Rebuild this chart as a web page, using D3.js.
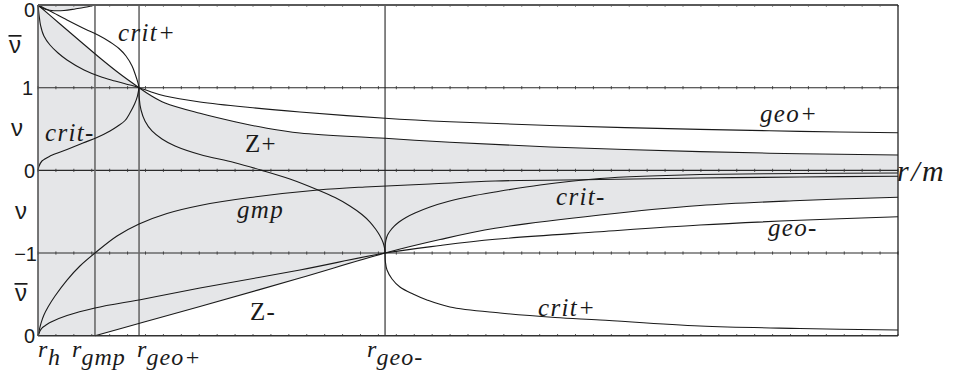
<!DOCTYPE html>
<html><head><meta charset="utf-8">
<script src="https://cdn.jsdelivr.net/npm/d3@7"></script>
<style>
html,body{margin:0;padding:0;background:#fff;}
svg{display:block;}
.sans{font-family:"Liberation Sans",Arial,Helvetica,sans-serif;fill:#1a1a1a;}
.serif{font-family:"Liberation Serif","Times New Roman",serif;fill:#1a1a1a;}
</style></head><body>
<svg id="chart" width="953" height="382"></svg>
<script>
// Marked radii (r/m): horizon, gmp radius, the two circular geodesics, and the plotted range end
const rH = 1.0, rGmp = 1.318, rGeoPlus = 1.564, rGeoMinus = 2.937, rMax = 5.8;

// Vertical coordinate u: nu-bar = 1/nu in [1,2], nu in [-1,1], nu-bar again in [-2,-1]
const bandTicks = [2, 1, 0, -1, -2];
const bandTickLabels = ["0", "1", "0", "\u22121", "0"];
const nuLabels = [
  { u: 1.5, bar: true, cx: 15 },
  { u: 0.5, bar: false, cx: 17 },
  { u: -0.5, bar: false, cx: 21 },
  { u: -1.5, bar: true, cx: 21 }
];

// Curves as [r/m, u] pairs
const capTop = [[1.000,2.000],[1.017,1.970],[1.045,1.946],[1.089,1.931],[1.145,1.933],[1.207,1.952],[1.262,1.972],[1.318,2.000]];

const critPlusTop = [[1.000,2.000],[1.067,1.927],[1.162,1.819],[1.262,1.710],[1.340,1.631],[1.402,1.553],[1.452,1.474],[1.491,1.383],[1.525,1.262],[1.544,1.153],[1.558,1.057],[1.564,1.000]];

const critPlusMid = [[1.564,1.000],[1.565,0.875],[1.575,0.730],[1.597,0.597],[1.636,0.476],[1.692,0.379],[1.765,0.294],[1.904,0.191],[2.094,0.095],[2.250,0.000],[2.406,-0.105],[2.563,-0.238],[2.658,-0.329],[2.741,-0.431],[2.808,-0.534],[2.853,-0.625],[2.886,-0.716],[2.909,-0.794],[2.926,-0.873],[2.934,-0.939],[2.937,-1.000]];

const critPlusLow = [[2.937,-1.000],[2.939,-1.109],[2.948,-1.205],[2.976,-1.314],[3.020,-1.411],[3.093,-1.496],[3.171,-1.568],[3.299,-1.653],[3.579,-1.726],[3.886,-1.780],[4.137,-1.810],[4.695,-1.883],[5.253,-1.913],[5.800,-1.931]];

const critMinusLeft = [[1.000,0.000],[1.006,0.053],[1.022,0.113],[1.067,0.173],[1.162,0.252],[1.251,0.331],[1.329,0.397],[1.402,0.476],[1.446,0.536],[1.486,0.603],[1.513,0.694],[1.539,0.802],[1.555,0.899],[1.564,1.000]];

const critMinusRight = [[2.937,-1.000],[2.938,-0.903],[2.942,-0.843],[2.951,-0.782],[2.965,-0.734],[2.987,-0.679],[3.015,-0.625],[3.054,-0.570],[3.104,-0.516],[3.188,-0.443],[3.288,-0.377],[3.411,-0.316],[3.551,-0.262],[3.802,-0.177],[4.137,-0.099],[4.416,-0.068],[4.695,-0.050],[5.253,-0.038],[5.800,-0.032]];

const gmp = [[1.000,-2.000],[1.006,-1.943],[1.017,-1.847],[1.033,-1.750],[1.056,-1.653],[1.095,-1.520],[1.162,-1.327],[1.234,-1.157],[1.318,-1.000],[1.441,-0.794],[1.564,-0.649],[1.720,-0.522],[1.904,-0.425],[2.183,-0.329],[2.563,-0.238],[2.825,-0.201],[3.188,-0.165],[3.551,-0.129],[4.137,-0.111],[4.695,-0.093],[5.253,-0.080],[5.800,-0.071]];

const geoPlus = [[1.000,2.000],[1.006,1.879],[1.014,1.758],[1.033,1.625],[1.067,1.516],[1.112,1.419],[1.162,1.335],[1.257,1.214],[1.346,1.135],[1.430,1.081],[1.486,1.047],[1.530,1.023],[1.564,1.000],[1.625,0.954],[1.709,0.899],[1.904,0.827],[2.183,0.760],[2.462,0.706],[2.937,0.630],[3.299,0.588],[3.858,0.542],[4.695,0.496],[5.253,0.472],[5.800,0.455]];

const zPlus = [[1.000,2.000],[1.123,1.770],[1.234,1.565],[1.346,1.359],[1.458,1.165],[1.564,1.000],[1.625,0.911],[1.709,0.815],[1.904,0.690],[2.099,0.588],[2.278,0.509],[2.462,0.452],[2.937,0.388],[3.299,0.339],[3.858,0.282],[4.695,0.226],[5.253,0.201],[5.800,0.185]];

const geoMinus = [[1.000,-2.000],[1.006,-1.973],[1.011,-1.943],[1.022,-1.907],[1.045,-1.871],[1.073,-1.834],[1.162,-1.756],[1.318,-1.665],[1.592,-1.556],[1.904,-1.423],[2.462,-1.205],[2.937,-1.000],[3.244,-0.909],[3.551,-0.834],[4.137,-0.742],[4.695,-0.661],[5.253,-0.604],[5.800,-0.561]];

const zMinus = [[1.318,-2.000],[1.592,-1.834],[1.904,-1.647],[2.462,-1.302],[2.937,-1.000],[3.244,-0.837],[3.551,-0.701],[4.137,-0.540],[4.695,-0.425],[5.253,-0.365],[5.800,-0.325]];

const curves = [capTop, critPlusTop, critPlusMid, critPlusLow, critMinusLeft, critMinusRight, gmp, geoPlus, zPlus, geoMinus, zMinus];

// Region labels (pixel anchors)
const regionLabels = [
  { t: "crit+", x: 118, y: 41, italic: true },
  { t: "crit-", x: 45, y: 141, italic: true },
  { t: "Z+", x: 245, y: 152, italic: false },
  { t: "gmp", x: 237, y: 218, italic: true },
  { t: "Z-", x: 250, y: 320, italic: false },
  { t: "crit-", x: 556, y: 205, italic: true },
  { t: "geo+", x: 760, y: 122, italic: true },
  { t: "geo-", x: 768, y: 236, italic: true },
  { t: "crit+", x: 538, y: 316, italic: true }
];

// Radius labels under the axis
const radiusLabels = [
  { r: rH, sub: "h", dx: 0 },
  { r: rGmp, sub: "gmp", dx: -23 },
  { r: rGeoPlus, sub: "geo+", dx: -2 },
  { r: rGeoMinus, sub: "geo-", dx: -18 }
];

const svg = d3.select("#chart");
const plotL = 38, plotR = 898, plotT = 5, plotB = 335.7;

const x = d3.scaleLinear().domain([rH, rMax]).range([plotL, plotR]);
const y = d3.scaleLinear().domain([-2, 2]).range([plotB, plotT]);

const line = d3.line().x(d => x(d[0])).y(d => y(d[1])).curve(d3.curveCatmullRom.alpha(0.5));

// grey background of the allowed region
svg.append("rect").attr("x", plotL).attr("y", plotT)
  .attr("width", plotR - plotL).attr("height", plotB - plotT).attr("fill", "#e5e6e8");

// white (excluded) regions
const whiteTop = line(capTop) + "L" + x(rMax) + "," + y(2) +
  line(zPlus.slice().reverse()).replace(/^M/, "L") + "Z";
svg.append("path").attr("d", whiteTop).attr("fill", "#fff");

const whiteBottom = line(zMinus) + "L" + x(rMax) + "," + y(-2) + "Z";
svg.append("path").attr("d", whiteBottom).attr("fill", "#fff");

// horizontal band lines
svg.append("g").selectAll("line").data([1, 0, -1]).join("line")
  .attr("x1", plotL).attr("x2", plotR)
  .attr("y1", d => y(d)).attr("y2", d => y(d))
  .attr("stroke", "#2a2a2a").attr("stroke-width", 1.1);

// minor ticks along each horizontal line
const rTicks = d3.range(10, 58.5, 1).map(v => v / 10);
const tickG = svg.append("g").attr("stroke", "#3a3a3a").attr("stroke-width", 0.9);
bandTicks.forEach(u => {
  const y0 = y(u);
  const a = u === 2 ? 0 : -1.6, b = u === -2 ? 0 : 1.6;
  tickG.selectAll(null).data(rTicks).join("line")
    .attr("x1", d => x(d)).attr("x2", d => x(d))
    .attr("y1", y0 + a).attr("y2", y0 + b);
});

// vertical lines at the marked radii
svg.append("g").selectAll("line")
  .data([{ r: rGmp, c: "#6a6a6a", w: 1.6 }, { r: rGeoPlus, c: "#6a6a6a", w: 1.6 }, { r: rGeoMinus, c: "#222", w: 1.1 }])
  .join("line")
  .attr("x1", d => x(d.r)).attr("x2", d => x(d.r))
  .attr("y1", plotT).attr("y2", plotB)
  .attr("stroke", d => d.c).attr("stroke-width", d => d.w);

// curves
svg.append("g").selectAll("path").data(curves).join("path")
  .attr("d", line).attr("fill", "none")
  .attr("stroke", "#1a1a1a").attr("stroke-width", 1.1);

// frame
svg.append("line").attr("x1", plotL).attr("x2", plotR).attr("y1", y(2)).attr("y2", y(2))
  .attr("stroke", "#5a5a5a").attr("stroke-width", 1.8);
svg.append("line").attr("x1", plotL).attr("x2", plotR).attr("y1", y(-2)).attr("y2", y(-2))
  .attr("stroke", "#333").attr("stroke-width", 1.4);
svg.append("line").attr("x1", x(rH)).attr("x2", x(rH)).attr("y1", plotT).attr("y2", plotB)
  .attr("stroke", "#555").attr("stroke-width", 1.6);
svg.append("line").attr("x1", x(rMax)).attr("x2", x(rMax)).attr("y1", plotT).attr("y2", plotB)
  .attr("stroke", "#222").attr("stroke-width", 1.3);

// band tick labels
svg.append("g").selectAll("text").data(bandTicks).join("text")
  .attr("class", "sans").attr("font-size", 20)
  .attr("text-anchor", "end")
  .attr("x", (d, i) => [35, 33, 35, 37, 35][i])
  .attr("y", (d, i) => y(d) + (i === 0 ? 11.5 : 7.5))
  .text((d, i) => bandTickLabels[i]);

// nu / nu-bar band names (the bar over nu-bar is a short stroke)
const nuG = svg.append("g").selectAll("g").data(nuLabels).join("g")
  .attr("transform", d => `translate(${d.cx},${y(d.u) + 7})`);
nuG.append("text").attr("class", "sans").attr("font-size", 24)
  .attr("text-anchor", "middle").text("\u03BD");
nuG.filter(d => d.bar).append("line")
  .attr("x1", -6.5).attr("x2", 6.5).attr("y1", -17.5).attr("y2", -17.5)
  .attr("stroke", "#1a1a1a").attr("stroke-width", 1.7);

// region labels
svg.append("g").selectAll("text").data(regionLabels).join("text")
  .attr("class", "serif").attr("font-size", 25).attr("letter-spacing", 1.3)
  .attr("font-style", d => d.italic ? "italic" : "normal")
  .attr("x", d => d.x).attr("y", d => d.y)
  .text(d => d.t);

// axis title
svg.append("text").attr("class", "serif").attr("font-size", 30).attr("font-style", "italic")
  .attr("letter-spacing", 2.5)
  .attr("x", 897).attr("y", 181).text("r/m");

// radius labels with subscripts
const rl = svg.append("g").selectAll("text").data(radiusLabels).join("text")
  .attr("class", "serif").attr("font-style", "italic").attr("letter-spacing", 1)
  .attr("x", d => x(d.r) + d.dx).attr("y", 357);
rl.append("tspan").attr("font-size", 24).text("r");
rl.append("tspan").attr("font-size", 24).attr("dy", 8).text(d => d.sub);
</script>
</body></html>
